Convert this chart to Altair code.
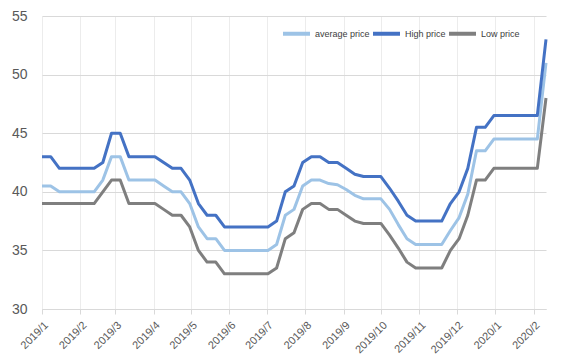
import altair as alt
import pandas as pd

# Weekly observations starting 2019-01-01
start_date = "2019-01-01"
n_weeks = 59

high_price = [43, 43, 42, 42, 42, 42, 42, 42.5, 45, 45,
              43, 43, 43, 43, 42.5, 42, 42, 41, 39, 38,
              38, 37, 37, 37, 37, 37, 37, 37.5, 40, 40.5,
              42.5, 43, 43, 42.5, 42.5, 42, 41.5, 41.3, 41.3, 41.3,
              40.3, 39.2, 38, 37.5, 37.5, 37.5, 37.5, 39, 40, 42,
              45.5, 45.5, 46.5, 46.5, 46.5, 46.5, 46.5, 46.5, 53]
average_price = [40.5, 40.5, 40, 40, 40, 40, 40, 41, 43, 43,
                 41, 41, 41, 41, 40.5, 40, 40, 39, 37, 36,
                 36, 35, 35, 35, 35, 35, 35, 35.5, 38, 38.5,
                 40.5, 41, 41, 40.7, 40.6, 40.2, 39.7, 39.4, 39.4, 39.4,
                 38.5, 37.2, 36, 35.5, 35.5, 35.5, 35.5, 36.7, 37.8, 39.8,
                 43.5, 43.5, 44.5, 44.5, 44.5, 44.5, 44.5, 44.5, 51]
low_price = [39, 39, 39, 39, 39, 39, 39, 40, 41, 41,
             39, 39, 39, 39, 38.5, 38, 38, 37, 35, 34,
             34, 33, 33, 33, 33, 33, 33, 33.5, 36, 36.5,
             38.5, 39, 39, 38.5, 38.5, 38, 37.5, 37.3, 37.3, 37.3,
             36.3, 35.2, 34, 33.5, 33.5, 33.5, 33.5, 35, 36, 38,
             41, 41, 42, 42, 42, 42, 42, 42, 48]

series_names = ["average price", "High price", "Low price"]
series_colors = ["#9DC3E6", "#4472C4", "#7F7F7F"]
y_ticks = [30, 35, 40, 45, 50, 55]
month_ticks = [(2019, m) for m in range(1, 13)] + [(2020, 1), (2020, 2)]

dates = pd.date_range(start_date, periods=n_weeks, freq="7D")
rows = []
for name, vals in zip(series_names, [average_price, high_price, low_price]):
    for d, v in zip(dates, vals):
        rows.append({"date": d, "series": name, "price": v})
df = pd.DataFrame(rows)

tick_values = [alt.DateTime(year=y, month=m, date=1) for y, m in month_ticks]
FONT = "Liberation Sans"

chart = alt.Chart(df).mark_line(strokeWidth=3, strokeJoin="round").encode(
    x=alt.X("date:T",
            scale=alt.Scale(domain=[alt.DateTime(year=2019, month=1, date=1),
                                    alt.DateTime(year=2020, month=2, date=11)]),
            axis=alt.Axis(values=tick_values, format="%Y/%-m", formatType="time",
                          labelAngle=-45, labelFontSize=11, labelColor="#595959",
                          labelFont=FONT, title=None, labelOverlap=False,
                          grid=True, gridColor="#ececec", domainColor="#d9d9d9",
                          tickColor="#d9d9d9", tickSize=5, labelPadding=5)),
    y=alt.Y("price:Q",
            scale=alt.Scale(domain=[30, 55], nice=False, zero=False),
            axis=alt.Axis(values=y_ticks, labelFontSize=14, labelColor="#595959",
                          labelFont=FONT, title=None, ticks=False,
                          domain=False, gridColor="#d9d9d9", labelPadding=15)),
    color=alt.Color("series:N",
                    scale=alt.Scale(domain=series_names, range=series_colors),
                    legend=alt.Legend(title=None, orient="none", legendX=239, legendY=2,
                                      direction="horizontal", symbolType="stroke",
                                      symbolSize=729, symbolStrokeWidth=4,
                                      labelFontSize=9, labelColor="#404040",
                                      labelFont=FONT,
                                      labelOffset=3, columnPadding=-5)),
    order=alt.Order("date:T"),
).properties(
    width=504, height=293,
    autosize=alt.AutoSizeParams(type="none"),
    padding={"left": 34, "top": 8, "right": 14, "bottom": 47},
).configure_view(stroke=None)

chart.save("out.html", embed_options={"renderer": "svg", "actions": False})
